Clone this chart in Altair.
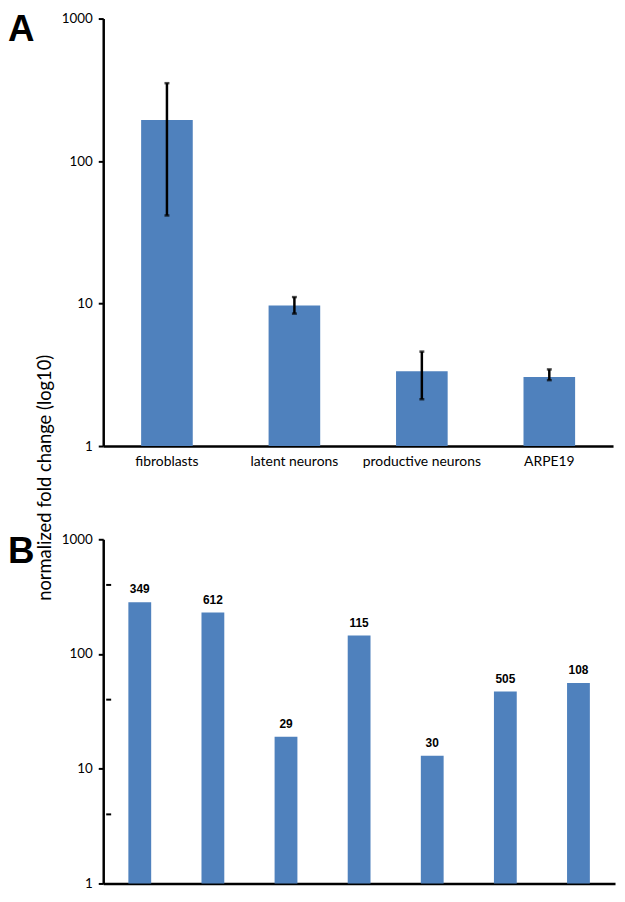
import altair as alt
import pandas as pd

# ---- data ----
a_cats = ["fibroblasts", "latent neurons", "productive neurons", "ARPE19"]
a_vals = [194, 9.7, 3.35, 3.05]
a_lo = [41.5, 8.5, 2.13, 2.9]
a_hi = [352, 11.1, 4.6, 3.45]

b_cats = ["1", "2", "3", "4", "5", "6", "7"]
b_vals = [282, 230, 19, 145, 13, 47, 56]
b_labels = ["349", "612", "29", "115", "30", "505", "108"]

y_ticks = [1, 10, 100, 1000]
minor_ticks = [4, 40, 400]

BLUE = "#4F81BD"
LABEL_FONT = "Lato"

dfa = pd.DataFrame({"cat": a_cats, "val": a_vals, "lo": a_lo, "hi": a_hi,
                    "base": [1] * len(a_cats)})
dfb = pd.DataFrame({"cat": b_cats, "val": b_vals, "lab": b_labels,
                    "base": [1] * len(b_cats)})


def yaxis():
    return alt.Axis(title=None, values=y_ticks, format="d", grid=False,
                    domainColor="black", domainWidth=2.5, tickColor="black",
                    tickWidth=2, tickSize=5, labelPadding=6, labelFont=LABEL_FONT,
                    labelFontSize=13.5, labelColor="black")


# ---- panel A ----
xa = alt.X("cat:N", sort=a_cats,
           scale=alt.Scale(paddingInner=0.595, paddingOuter=0.2975),
           axis=alt.Axis(title=None, labelAngle=0, ticks=False, domainColor="black",
                         domainWidth=2.5, labelFont=LABEL_FONT, labelFontSize=14,
                         labelColor="black", labelPadding=9))
ya_scale = alt.Scale(type="log", domain=[1, 1000])

a_bars = alt.Chart(dfa).mark_bar(color=BLUE).encode(
    x=xa, y=alt.Y("val:Q", scale=ya_scale, axis=yaxis()), y2="base:Q")
a_err = alt.Chart(dfa).mark_rule(color="black", strokeWidth=2.5).encode(
    x=alt.X("cat:N", sort=a_cats), y=alt.Y("lo:Q", title=None), y2="hi:Q")
a_caps = alt.Chart(dfa).transform_fold(["lo", "hi"]).mark_tick(
    color="black", thickness=2.5, size=5).encode(
    x=alt.X("cat:N", sort=a_cats), y=alt.Y("value:Q", title=None))
a_letter = alt.Chart(pd.DataFrame({"t": ["A"]})).mark_text(
    font="Liberation Sans", fontWeight="bold", fontSize=37, align="left",
    baseline="top", color="black").encode(
    text="t:N", x=alt.value(-96), y=alt.value(-6))
y_title = alt.Chart(pd.DataFrame({"t": ["normalized fold change (log10)"]})).mark_text(
    font=LABEL_FONT, fontSize=18.5, angle=270, align="center", baseline="middle",
    color="black").encode(text="t:N", x=alt.value(-59), y=alt.value(463))

panel_a = alt.layer(a_bars, a_err, a_caps, a_letter, y_title).properties(
    width=514, height=431)

# ---- panel B ----
xb = alt.X("cat:N", sort=b_cats,
           scale=alt.Scale(paddingInner=0.688, paddingOuter=0.344),
           axis=alt.Axis(title=None, labels=False, ticks=False, domainColor="black",
                         domainWidth=2.5))
yb_scale = alt.Scale(type="log", domain=[1, 1000])

b_bars = alt.Chart(dfb).mark_bar(color=BLUE).encode(
    x=xb, y=alt.Y("val:Q", scale=yb_scale, axis=yaxis()), y2="base:Q")
b_text = alt.Chart(dfb).mark_text(
    font="Liberation Sans", fontWeight="bold", fontSize=12, baseline="bottom",
    dy=-6, color="black").encode(
    x=alt.X("cat:N", sort=b_cats), y=alt.Y("val:Q", title=None), text="lab:N")
b_minor = alt.Chart(pd.DataFrame({"v": minor_ticks})).mark_rule(
    color="black", strokeWidth=2).encode(
    y=alt.Y("v:Q", title=None), x=alt.value(3), x2=alt.value(8))
b_letter = alt.Chart(pd.DataFrame({"t": ["B"]})).mark_text(
    font="Liberation Sans", fontWeight="bold", fontSize=37, align="left",
    baseline="top", color="black").encode(
    text="t:N", x=alt.value(-96), y=alt.value(-5))

panel_b = alt.layer(b_bars, b_text, b_minor, b_letter).properties(
    width=516, height=347)

chart = alt.vconcat(panel_a, panel_b, spacing=94, bounds="flush").properties(
    padding={"left": 0, "top": 0, "right": 2, "bottom": 0}
).configure_view(stroke=None)

chart.save("out.html", embed_options={"renderer": "svg", "actions": False})
